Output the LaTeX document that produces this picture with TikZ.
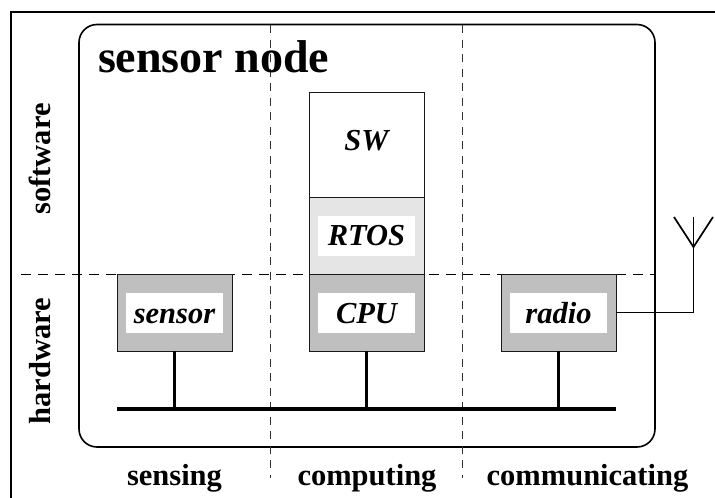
\documentclass[tikz,border=0pt]{standalone}
\usepackage{fontspec}
\setmainfont{Liberation Serif}
\tikzset{
  every node/.style={inner sep=0pt, outer sep=0pt, font=\fontsize{30.5}{34}\selectfont\bfseries},
  unitbox/.style={draw=black!90, line width=1pt, minimum width=115pt},
  hwbox/.style={unitbox, fill=black!25, minimum height=77pt},
  rtosbox/.style={unitbox, fill=black!10, minimum height=77pt},
  swbox/.style={unitbox, fill=white, minimum height=105pt},
  inset/.style={fill=white, minimum width=97pt, minimum height=40pt},
  boxtext/.style={anchor=base, font=\fontsize{30.5}{34}\selectfont\bfseries\itshape},
  axistext/.style={anchor=base},
  divider/.style={draw=black!80, line width=0.9pt, dash pattern=on 8pt off 6.5pt},
  levelline/.style={draw=black, line width=1pt, dash pattern=on 10pt off 7pt},
  bus/.style={line width=3.8pt},
  stub/.style={line width=3.2pt},
  wire/.style={line width=1.7pt},
}
\begin{document}
\begin{tikzpicture}[x=1pt,y=-1pt]
\useasboundingbox (0,0) rectangle (715,498);
% outer frame, cut off by the page on the right and below
\draw[line width=2.4pt] (11,498) -- (11,12) -- (715,12);
% sensor node outline
\draw[line width=1.6pt, rounded corners=18pt] (79,24.5) rectangle (655,447);
% dividers
\coordinate (vaT) at (270.5,25);
\coordinate (vaB) at (270.5,478);
\coordinate (vbT) at (462.5,25);
\coordinate (vbB) at (462.5,478);
\coordinate (hL) at (21,274);
\coordinate (hR) at (655,274);
\draw[divider] (vaT) -- (vaB);
\draw[divider] (vbT) -- (vbB);
\draw[levelline] (hL) -- (hR);
% title
\node[anchor=base west, font=\fontsize{46}{50}\selectfont\bfseries] (title) at (98,72.5) {sensor node};
% side and bottom labels
\node[axistext, rotate=90] (software) at (50,159) {software};
\node[axistext, rotate=90] (hardware) at (50,361) {hardware};
\node[axistext] (sensing) at (174.5,485.5) {sensing};
\node[axistext] (computing) at (367,485.5) {computing};
\node[axistext] (communicating) at (587.5,485.5) {communicating};
% boxes
\node[hwbox] (sensorbox) at (174.5,312.5) {};
\node[hwbox] (cpubox) at (366.5,312.5) {};
\node[hwbox] (radiobox) at (558.5,312.5) {};
\node[rtosbox] (rtosbox) at (366.5,235.5) {};
\node[swbox] (swbox) at (366.5,144.5) {};
\node[inset] (sensorin) at (174.5,313) {};
\node[inset] (cpuin) at (366.5,313) {};
\node[inset] (radioin) at (558.5,313) {};
\node[inset] (rtosin) at (366.5,236) {};
\node[boxtext] (sensorlabel) at (174.5,323) {sensor};
\node[boxtext] (cpulabel) at (366.5,323) {CPU};
\node[boxtext] (radiolabel) at (558.5,323) {radio};
\node[boxtext] (rtoslabel) at (366.5,245.5) {RTOS};
\node[boxtext] (swlabel) at (366.5,150) {SW};
% bus
\coordinate (busL) at (117,409);
\coordinate (busR) at (616,409);
\coordinate (busA) at (174.5,409);
\coordinate (busB) at (366.5,409);
\coordinate (busC) at (558.5,409);
\draw[bus] (busL) -- (busR);
\draw[stub] (sensorbox.south) -- (busA);
\draw[stub] (cpubox.south) -- (busB);
\draw[stub] (radiobox.south) -- (busC);
% antenna
\coordinate (antTop) at (693.5,217);
\coordinate (antFeed) at (693.5,247);
\coordinate (antL) at (674,217);
\coordinate (antR) at (713,217);
\draw[wire] (radiobox.east |- 0,312.5) -- (693.5,312.5) -- (antTop);
\draw[wire] (antL) -- (antFeed) -- (antR);
\end{tikzpicture}
\end{document}
